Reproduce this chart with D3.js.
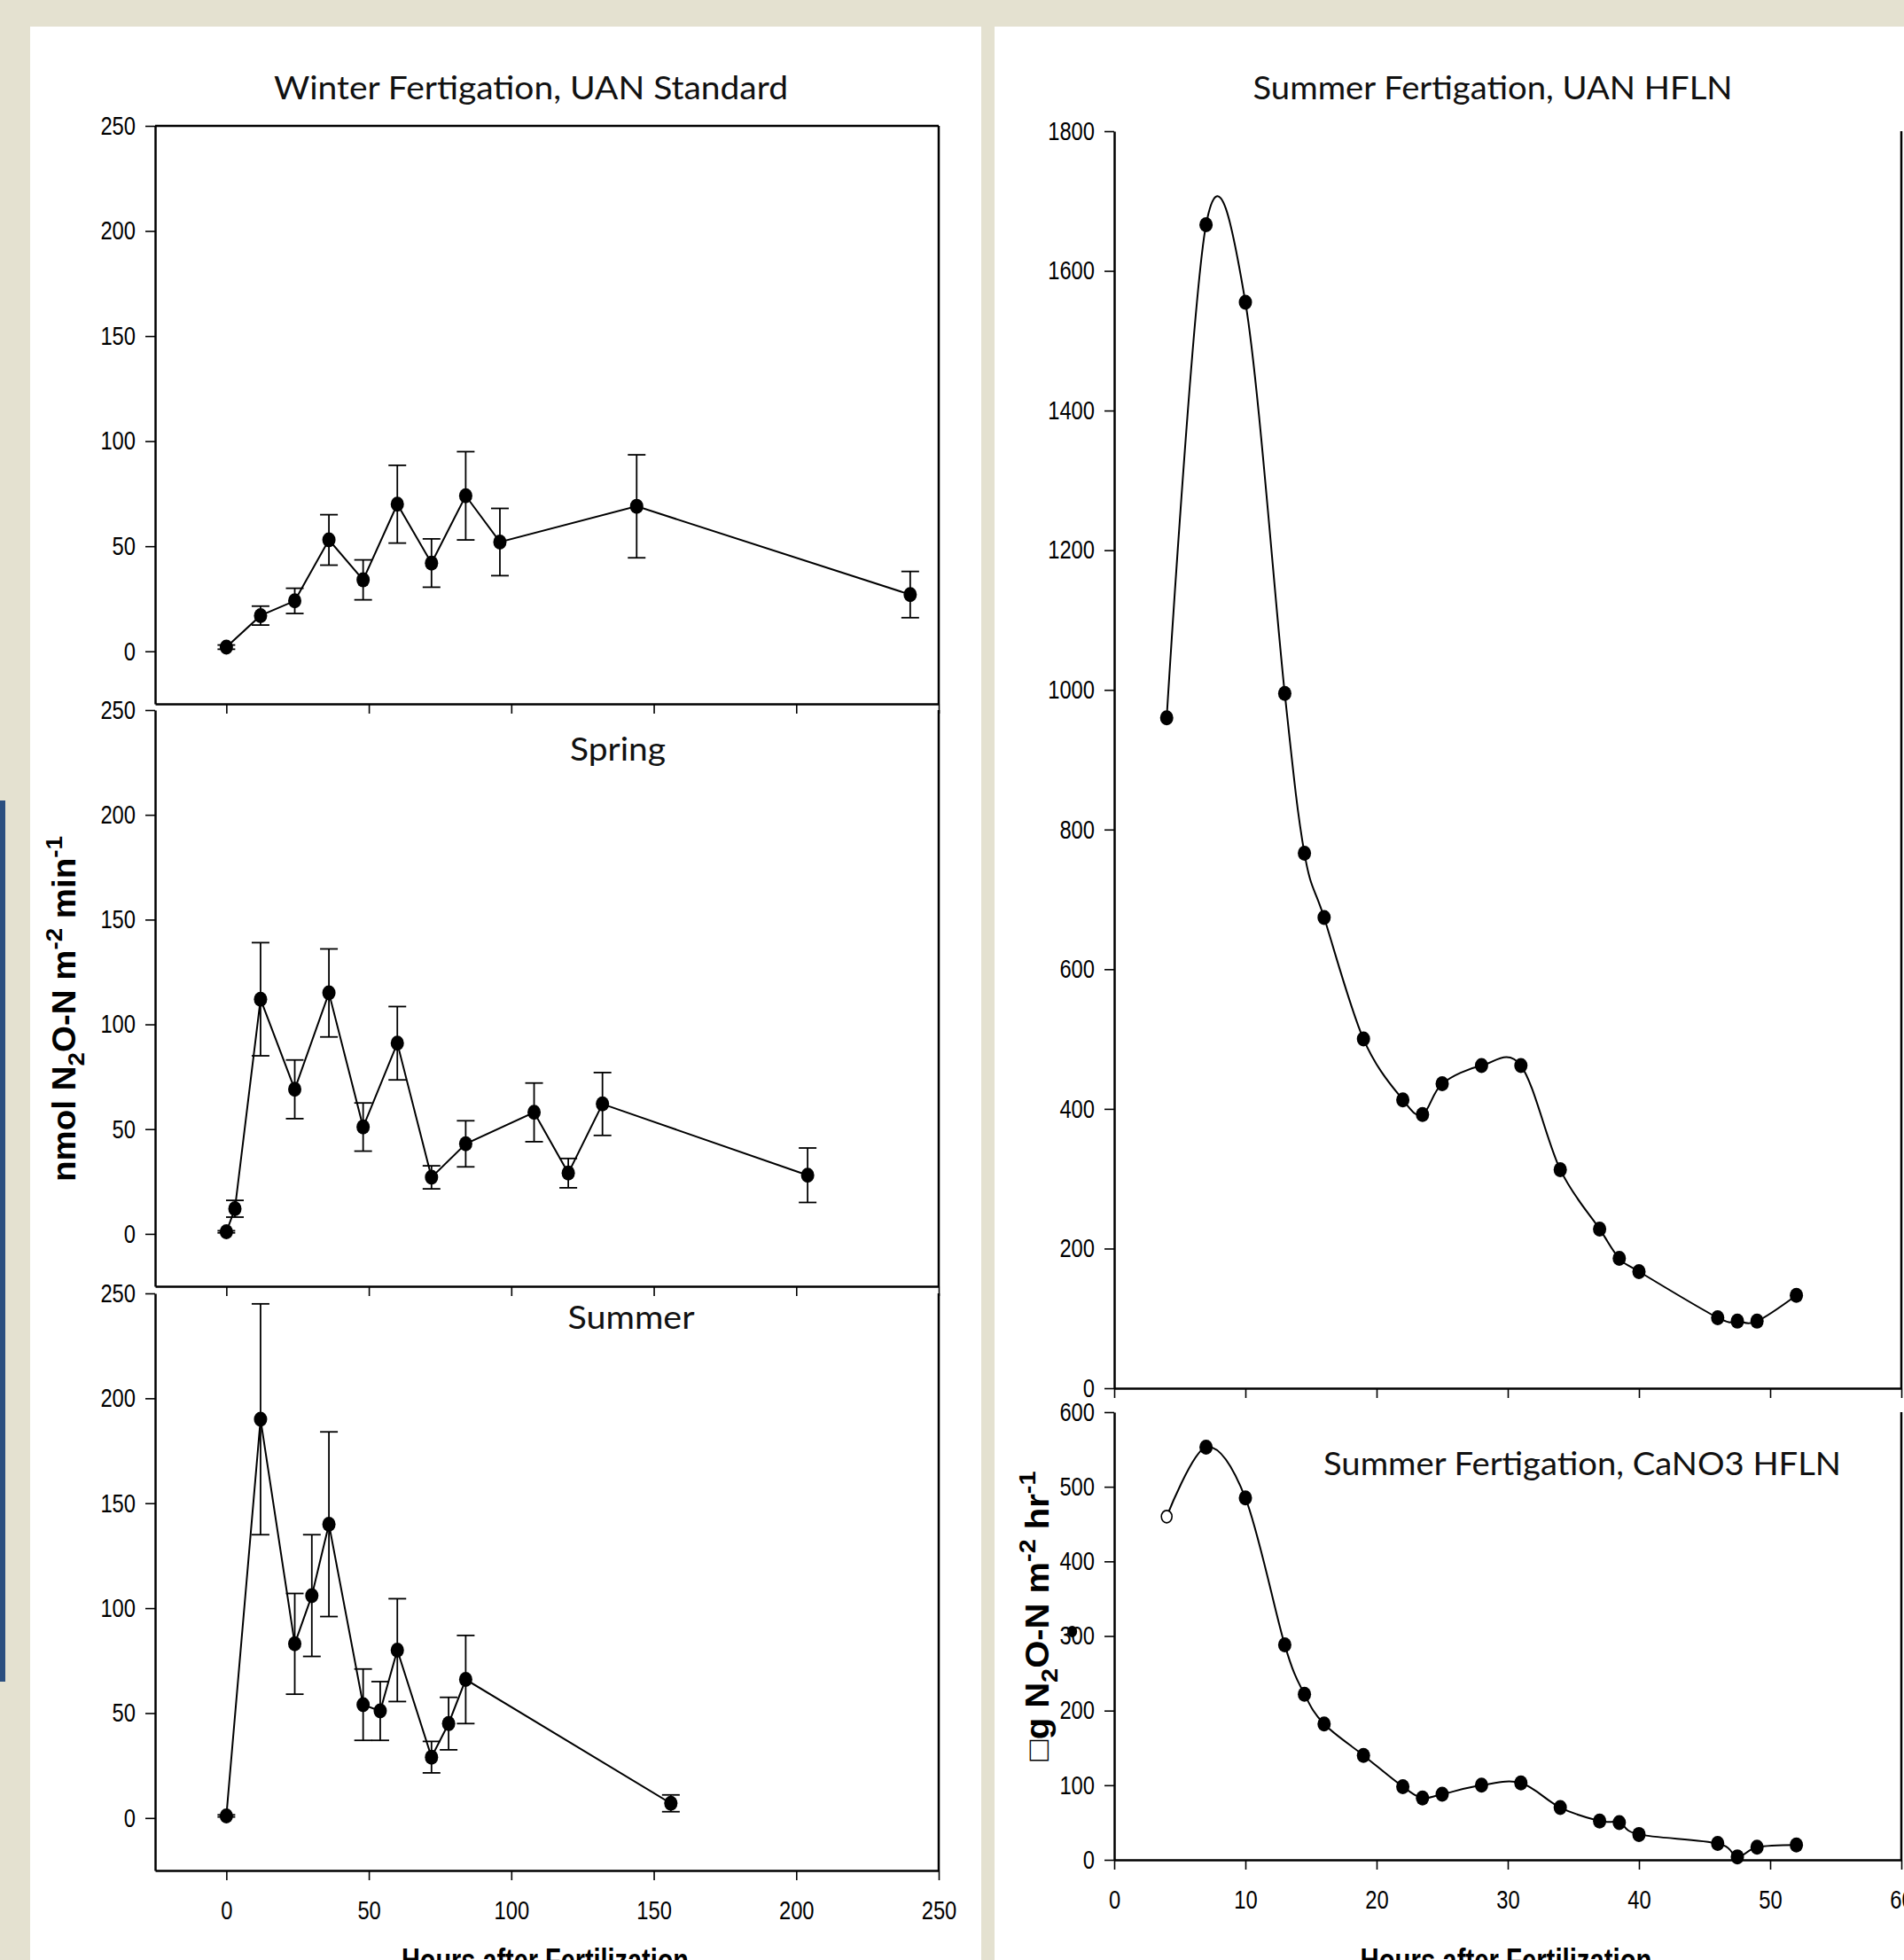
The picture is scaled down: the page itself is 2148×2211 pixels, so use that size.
<!DOCTYPE html>
<html>
<head>
<meta charset="utf-8">
<script src="https://cdn.jsdelivr.net/npm/d3@7"></script>
<style>
  body { margin: 0; background: #e4e1d0; }
  .tick text { font-family: "Liberation Sans", Arial, sans-serif; font-size: 29px; fill: #000; }
  .title { font-family: Lato, "Open Sans", sans-serif; font-size: 37px; fill: #111; }
  .axlabel { font-family: "Liberation Sans", Arial, sans-serif; font-weight: bold; font-size: 36px; fill: #000; }
</style>
</head>
<body>
<div id="chart"></div>
<script>
// winter, UAN standard (nmol N2O-N m-2 min-1)
var winterHours = [0, 12, 24, 36, 48, 60, 72, 84, 96, 144, 240]
var winterFlux  = [2, 17, 24, 53, 34, 70, 42, 74, 52, 69, 27]
var winterErr   = [1, 4.5, 6, 12, 9.5, 18.5, 11.5, 21, 16, 24.5, 11]

// spring
var springHours = [0, 3, 12, 24, 36, 48, 60, 72, 84, 108, 120, 132, 204]
var springFlux  = [1, 12, 112, 69, 115, 51, 91, 27, 43, 58, 29, 62, 28]
var springErr   = [0.5, 4, 27, 14, 21, 11.5, 17.5, 5.5, 11, 14, 7, 15, 13]

// summer
var summerHours = [0, 12, 24, 30, 36, 48, 54, 60, 72, 78, 84, 156]
var summerFlux  = [1, 190, 83, 106, 140, 54, 51, 80, 29, 45, 66, 7]
var summerErr   = [0.5, 55, 24, 29, 44, 17, 14, 24.5, 7.5, 12.5, 21, 4]

// HFLN runs (ug N2O-N m-2 hr-1)
var hflnHours = [4, 7, 10, 13, 14.5, 16, 19, 22, 23.5, 25, 28, 31, 34, 37, 38.5, 40, 46, 47.5, 49, 52]
var uanFlux   = [960, 1666, 1555, 995, 766, 674, 500, 413, 392, 436, 462, 462, 313, 228, 186, 167, 101, 96, 96, 133]
var canoFlux  = [460, 553, 485, 288, 222, 182, 140, 98, 83, 88, 100, 103, 70, 52, 50, 34, 22, 4, 17, 20]
var canoOpen  = [true, false, false, false, false, false, false, false, false, false, false, false, false, false, false, false, false, false, false, false]

// stray marker sitting on the "300" label
var strayMark = [{h: -3.2, v: 306}]

var leftTicks = [0, 50, 100, 150, 200, 250]
var rightXTicks = [0, 10, 20, 30, 40, 50, 60]
var uanYTicks = [0, 200, 400, 600, 800, 1000, 1200, 1400, 1600, 1800]
var canoYTicks = [0, 100, 200, 300, 400, 500, 600]

var width = 2148, height = 2211

var svg = d3.select("#chart").append("svg")
    .attr("width", width)
    .attr("height", height)

svg.append("rect").attr("width", width).attr("height", height).attr("fill", "#e4e1d0")
svg.append("rect").attr("x", 0).attr("y", 903).attr("width", 6).attr("height", 994).attr("fill", "#2b4f80")
svg.append("rect").attr("x", 34).attr("y", 30).attr("width", 1073).attr("height", height - 30).attr("fill", "#fff")
svg.append("rect").attr("x", 1122).attr("y", 30).attr("width", width - 1122).attr("height", height - 30).attr("fill", "#fff")

function zip(xs, ys, es, open) {
    return xs.map(function(h, i) {
        return {h: h, v: ys[i], e: es ? es[i] : 0, open: open ? open[i] : false}
    })
}

// condensed look for the tick numbers
function narrow(sel) {
    sel.selectAll(".tick text").each(function() {
        var n = this.textContent.length
        if (n) d3.select(this).attr("textLength", n * 13.2).attr("lengthAdjust", "spacingAndGlyphs")
    })
}

function axes(g, x, y, xt, yt, showX, topLine) {
    var xd = x.domain(), yd = y.domain()
    var yAx = g.append("g")
        .attr("transform", "translate(" + x(xd[0]) + ",0)")
        .call(d3.axisLeft(y).tickValues(yt).tickSize(11).tickPadding(11).tickSizeOuter(0).tickFormat(d3.format("d")))
    var xAx = g.append("g")
        .attr("transform", "translate(0," + y(yd[0]) + ")")
        .call(d3.axisBottom(x).tickValues(xt).tickSize(11).tickPadding(23).tickSizeOuter(0)
            .tickFormat(showX ? d3.format("d") : function() { return "" }))
    narrow(yAx)
    narrow(xAx)
    yAx.select(".domain").attr("stroke-width", 2.5)
    xAx.select(".domain").attr("stroke-width", 2.5)
    g.selectAll(".tick line").attr("stroke-width", 1.6)
    g.append("line")
        .attr("x1", x(xd[1])).attr("x2", x(xd[1]))
        .attr("y1", y(yd[1])).attr("y2", y(yd[0]))
        .attr("stroke", "#000").attr("stroke-width", 2.5)
    if (topLine) {
        g.append("line")
            .attr("x1", x(xd[0])).attr("x2", x(xd[1]))
            .attr("y1", y(yd[1])).attr("y2", y(yd[1]))
            .attr("stroke", "#000").attr("stroke-width", 2.5)
    }
}

function dots(g, x, y, data) {
    g.selectAll(".dot").data(data).enter().append("ellipse")
        .attr("cx", function(d) { return x(d.h) })
        .attr("cy", function(d) { return y(d.v) })
        .attr("rx", function(d) { return d.open ? 6 : 7.5 })
        .attr("ry", function(d) { return d.open ? 7 : 8.5 })
        .attr("fill", function(d) { return d.open ? "#fff" : "#000" })
        .attr("stroke", "#000")
        .attr("stroke-width", function(d) { return d.open ? 1.6 : 0 })
}

// left column: three seasons sharing one x scale
var xLeft = d3.scaleLinear().domain([-25, 250]).range([175, 1059])

var seasons = [
    {data: zip(winterHours, winterFlux, winterErr), top: 142, bottom: 794, label: "Winter Fertigation, UAN Standard", lx: 599, ly: 99, lw: 580, showX: false, topLine: true},
    {data: zip(springHours, springFlux, springErr), top: 801, bottom: 1451, label: "Spring", lx: 697, ly: 845, lw: 108, showX: false, topLine: false},
    {data: zip(summerHours, summerFlux, summerErr), top: 1459, bottom: 2110, label: "Summer", lx: 712, ly: 1486, lw: 143, showX: true, topLine: false}
]

seasons.forEach(function(s) {
    var y = d3.scaleLinear().domain([-25, 250]).range([s.bottom, s.top])
    var g = svg.append("g")
    axes(g, xLeft, y, leftTicks, leftTicks, s.showX, s.topLine)

    var bars = g.selectAll(".err").data(s.data).enter().append("g").attr("stroke", "#000").attr("stroke-width", 1.8)
    bars.append("line")
        .attr("x1", function(d) { return xLeft(d.h) }).attr("x2", function(d) { return xLeft(d.h) })
        .attr("y1", function(d) { return y(d.v - d.e) }).attr("y2", function(d) { return y(d.v + d.e) })
    bars.append("line")
        .attr("x1", function(d) { return xLeft(d.h) - 10 }).attr("x2", function(d) { return xLeft(d.h) + 10 })
        .attr("y1", function(d) { return y(d.v + d.e) }).attr("y2", function(d) { return y(d.v + d.e) })
    bars.append("line")
        .attr("x1", function(d) { return xLeft(d.h) - 10 }).attr("x2", function(d) { return xLeft(d.h) + 10 })
        .attr("y1", function(d) { return y(d.v - d.e) }).attr("y2", function(d) { return y(d.v - d.e) })

    g.append("path").datum(s.data)
        .attr("fill", "none").attr("stroke", "#000").attr("stroke-width", 2)
        .attr("d", d3.line().x(function(d) { return xLeft(d.h) }).y(function(d) { return y(d.v) }))
    dots(g, xLeft, y, s.data)

    svg.append("text").attr("class", "title")
        .attr("x", s.lx).attr("y", s.ly).attr("dy", "0.35em")
        .attr("text-anchor", "middle")
        .attr("textLength", s.lw).attr("lengthAdjust", "spacingAndGlyphs")
        .text(s.label)
})

// right column: HFLN runs
var xRight = d3.scaleLinear().domain([0, 60]).range([1257, 2145])

var runs = [
    {data: zip(hflnHours, uanFlux, null, null), yDomain: [0, 1800], top: 148, bottom: 1566, ticks: uanYTicks, showX: false,
     label: "Summer Fertigation, UAN HFLN", lx: 1684, ly: 99, lw: 541},
    {data: zip(hflnHours, canoFlux, null, canoOpen), yDomain: [0, 600], top: 1593, bottom: 2098, ticks: canoYTicks, showX: true,
     label: "Summer Fertigation, CaNO3 HFLN", lx: 1785, ly: 1651, lw: 584}
]

runs.forEach(function(r, i) {
    var y = d3.scaleLinear().domain(r.yDomain).range([r.bottom, r.top])
    var g = svg.append("g")
    axes(g, xRight, y, rightXTicks, r.ticks, r.showX, false)

    g.append("path").datum(r.data)
        .attr("fill", "none").attr("stroke", "#000").attr("stroke-width", 2)
        .attr("d", d3.line().curve(d3.curveCatmullRom.alpha(0))
            .x(function(d) { return xRight(d.h) }).y(function(d) { return y(d.v) }))
    dots(g, xRight, y, r.data)

    if (i == 1) {
        g.selectAll(".stray").data(strayMark).enter().append("ellipse")
            .attr("cx", function(d) { return xRight(d.h) })
            .attr("cy", function(d) { return y(d.v) })
            .attr("rx", 5.5).attr("ry", 6.5).attr("fill", "#000")
    }

    svg.append("text").attr("class", "title")
        .attr("x", r.lx).attr("y", r.ly).attr("dy", "0.35em")
        .attr("text-anchor", "middle")
        .attr("textLength", r.lw).attr("lengthAdjust", "spacingAndGlyphs")
        .text(r.label)
})

// axis titles
function yTitle(x, yc, len, prefix, tail) {
    var t = svg.append("text").attr("class", "axlabel")
        .attr("transform", "translate(" + x + "," + yc + ") rotate(-90)")
        .attr("text-anchor", "middle")
        .attr("textLength", len).attr("lengthAdjust", "spacingAndGlyphs")
    t.append("tspan").text(prefix + "N")
    t.append("tspan").attr("font-size", "26px").attr("dy", 10).text("2")
    t.append("tspan").attr("dy", -10).text("O-N m")
    t.append("tspan").attr("font-size", "26px").attr("dy", -15).text("-2")
    t.append("tspan").attr("dy", 15).text(" " + tail)
    t.append("tspan").attr("font-size", "26px").attr("dy", -15).text("-1")
}
yTitle(85, 1138, 390, "nmol ", "min")
yTitle(1183, 1823, 327, "\u25A1g ", "hr")

svg.append("text").attr("class", "axlabel")
    .attr("x", 615).attr("y", 2224).attr("text-anchor", "middle")
    .attr("textLength", 324).attr("lengthAdjust", "spacingAndGlyphs")
    .text("Hours after Fertilization")
svg.append("text").attr("class", "axlabel")
    .attr("x", 1699).attr("y", 2224).attr("text-anchor", "middle")
    .attr("textLength", 329).attr("lengthAdjust", "spacingAndGlyphs")
    .text("Hours after Fertilization")
</script>
</body>
</html>
